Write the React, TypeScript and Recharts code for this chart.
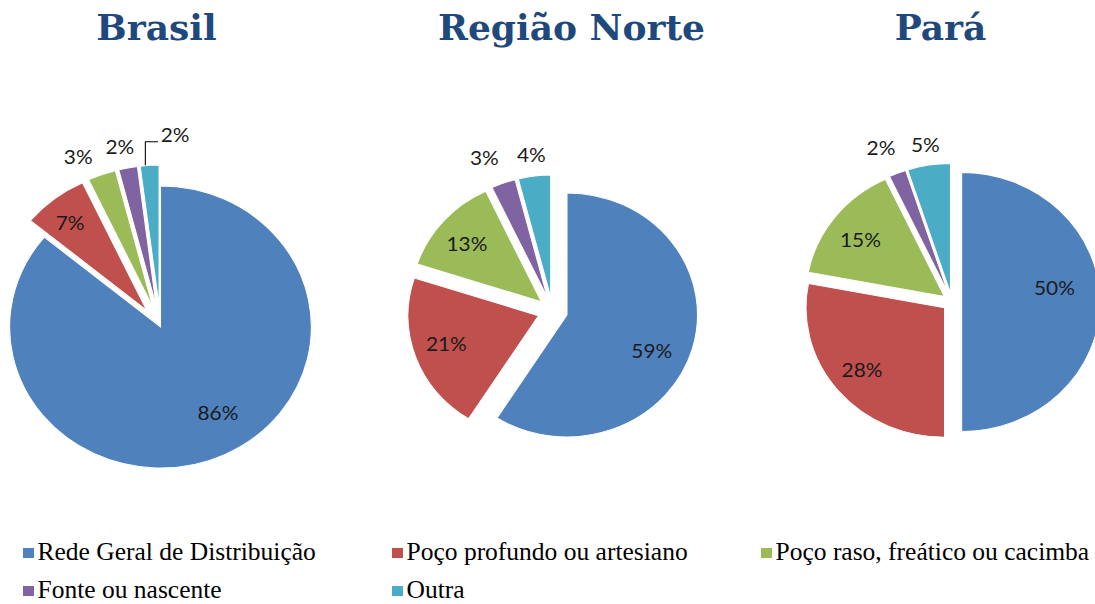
import React from 'react';
import { PieChart, Pie, Cell, Sector } from 'recharts';

// ---------- data ----------
const categories = [
  'Rede Geral de Distribuição',
  'Poço profundo ou artesiano',
  'Poço raso, freático ou cacimba',
  'Fonte ou nascente',
  'Outra',
];
const regions = ['Brasil', 'Região Norte', 'Pará'];
const brasilValues = [86, 7, 3, 2, 2];
const norteValues = [59, 21, 13, 3, 4];
const paraValues = [50, 28, 15, 2, 5];

// ---------- styles ----------
const COLORS = ['#4F81BD', '#C0504D', '#9BBB59', '#8064A2', '#4BACC6'];
const TITLE_COLOR = '#1F497D';
const RAD = Math.PI / 180;
const STRETCH = 1.07;
const CHART_TOP = 100;
const CHART_H = 400;

type LabelStyle = { r: number; da: number; leader?: boolean };
type ChartCfg = {
  title: string;
  values: number[];
  left: number;
  width: number;
  cx: number;
  cy: number;
  R: number;
  titleX: number;
  explode: number[];
  labels: LabelStyle[];
};

const charts: ChartCfg[] = [
  {
    title: regions[0],
    values: brasilValues,
    left: 0,
    width: 330,
    cx: 160.5,
    cy: 227,
    R: 141,
    titleX: 156.5,
    explode: [0, 21, 21, 21, 21],
    labels: [
      { r: 0.713, da: -7.1 },
      { r: 0.807, da: -1.2 },
      { r: 1.18, da: -5 },
      { r: 1.16, da: -1.2 },
      { r: 1.22, da: 8.6, leader: true },
    ],
  },
  {
    title: regions[1],
    values: norteValues,
    left: 390,
    width: 330,
    cx: 162.6,
    cy: 211,
    R: 122,
    titleX: 571.5,
    explode: [14, 14, 14, 14, 14],
    labels: [
      { r: 0.71, da: 7.6 },
      { r: 0.74, da: 2.3 },
      { r: 0.746, da: -1.2 },
      { r: 1.25, da: -3 },
      { r: 1.18, da: 0 },
    ],
  },
  {
    title: regions[2],
    values: paraValues,
    left: 780,
    width: 315,
    cx: 172,
    cy: 202,
    R: 129.5,
    titleX: 940.5,
    explode: [9, 9, 9, 9, 9],
    labels: [
      { r: 0.68, da: -9.9 },
      { r: 0.76, da: 1.2 },
      { r: 0.75, da: -1.7 },
      { r: 1.23, da: -1.7 },
      { r: 1.16, da: 0 },
    ],
  },
];

const LABEL_FONT = 'Lato, "Liberation Sans", sans-serif';
const LEGEND_FONT = '"Liberation Serif", "Times New Roman", Times, serif';

function makeShape(cfg: ChartCfg) {
  return (props: any) => {
    const idx = categories.indexOf(props.name);
    const ex = idx >= 0 ? cfg.explode[idx] : 0;
    const mid = props.midAngle ?? (props.startAngle + props.endAngle) / 2;
    const dx = ex * Math.cos(mid * RAD);
    const dy = -ex * Math.sin(mid * RAD);
    const { explode, payload, tooltipPayload, tooltipPosition, ...rest } = props;
    return <Sector {...rest} cx={props.cx + dx} cy={props.cy + dy} />;
  };
}

function makeLabel(cfg: ChartCfg) {
  return (p: any) => {
    const { cx, cy, midAngle, outerRadius, index, value } = p;
    const ls = cfg.labels[index];
    const ex = cfg.explode[index];
    const ox = cx + ex * Math.cos(midAngle * RAD);
    const oy = cy - ex * Math.sin(midAngle * RAD);
    const a = (midAngle - ls.da) * RAD;
    const x = ox + outerRadius * ls.r * Math.cos(a);
    const y = oy - outerRadius * ls.r * Math.sin(a);
    let leader = null;
    if (ls.leader) {
      const sx = ox + outerRadius * Math.cos(midAngle * RAD) - 4;
      const sy = oy - outerRadius * Math.sin(midAngle * RAD);
      const ly = y + 7;
      leader = (
        <path
          d={`M${sx},${sy} L${sx},${ly} L${x - 16},${ly}`}
          stroke="#000"
          strokeWidth={1}
          fill="none"
        />
      );
    }
    return (
      <g key={`lbl-${index}`}>
        {leader}
        <text
          x={x}
          y={y}
          textAnchor="middle"
          dominantBaseline="central"
          style={{ fontFamily: LABEL_FONT, fontSize: 19.5 }}
          fill="#1a1a1a"
        >
          {`${value}%`}
        </text>
      </g>
    );
  };
}

function RegionPie({ cfg }: { cfg: ChartCfg }) {
  const data = categories.map((name, i) => ({ name, value: cfg.values[i] }));
  return (
    <div
      style={{
        position: 'absolute',
        left: cfg.left,
        top: CHART_TOP,
        width: cfg.width,
        height: CHART_H,
        transform: `scaleX(${STRETCH})`,
        transformOrigin: `${cfg.cx}px ${cfg.cy}px`,
      }}
    >
      <PieChart width={cfg.width} height={CHART_H} margin={{ top: 0, right: 0, bottom: 0, left: 0 }}>
        <Pie
          data={data}
          dataKey="value"
          nameKey="name"
          cx={cfg.cx}
          cy={cfg.cy}
          outerRadius={cfg.R}
          startAngle={90}
          endAngle={-270}
          stroke="#ffffff"
          strokeWidth={1}
          isAnimationActive={false}
          labelLine={false}
          label={makeLabel(cfg)}
          shape={makeShape(cfg)}
        >
          {data.map((d, i) => (
            <Cell key={d.name} fill={COLORS[i]} />
          ))}
        </Pie>
      </PieChart>
    </div>
  );
}

const LEGEND_COLS = [23, 392, 761];
const LEGEND_ROWS = [560, 598];

export default function App() {
  return (
    <div
      style={{
        position: 'absolute',
        left: 0,
        top: 0,
        width: 1095,
        height: 604,
        overflow: 'hidden',
        background: '#ffffff',
      }}
    >
      <svg width={1095} height={604} style={{ position: 'absolute', left: 0, top: 0 }}>
        {charts.map((c) => (
          <text
            key={c.title}
            x={c.titleX}
            y={39.5}
            textAnchor="middle"
            style={{ fontFamily: '"DejaVu Serif", serif', fontWeight: 'bold', fontSize: 36 }}
            fill={TITLE_COLOR}
          >
            {c.title}
          </text>
        ))}
        {categories.map((name, i) => {
          const col = i < 3 ? i : i - 3;
          const row = i < 3 ? 0 : 1;
          const x = LEGEND_COLS[col];
          const y = LEGEND_ROWS[row];
          return (
            <g key={name}>
              <rect x={x} y={y - 12} width={11} height={10} fill={COLORS[i]} />
              <text
                x={x + 14.5}
                y={y}
                style={{ fontFamily: LEGEND_FONT, fontSize: 25.5 }}
                fill="#000"
              >
                {name}
              </text>
            </g>
          );
        })}
      </svg>
      {charts.map((c) => (
        <RegionPie key={c.title} cfg={c} />
      ))}
    </div>
  );
}
